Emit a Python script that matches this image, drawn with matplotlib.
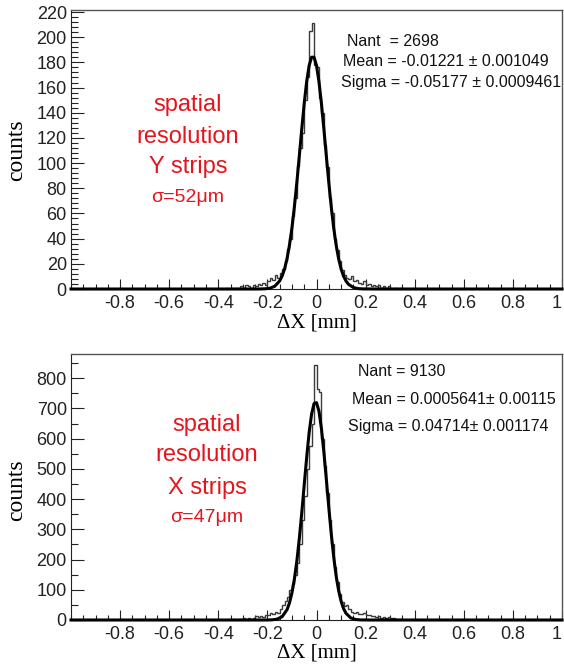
import numpy as np
import matplotlib
matplotlib.use("Agg")
import matplotlib.pyplot as plt
from matplotlib.ticker import MultipleLocator, FuncFormatter

SANS = "Liberation Sans"
SERIF = "Liberation Serif"
RED = "#e3151d"

# histogram bins: width 0.01 mm, counts listed from the first left edge
bin_width = 0.01

# Y strips (top panel)
y_first_edge = -0.37
y_counts = [1, 0, 1, 0, 1, 0, 2, 1, 3, 2, 1, 3, 2, 4, 3, 5, 3, 6, 9, 7,
            11, 9, 13, 16, 22, 32, 40, 58, 72, 98, 112, 124, 150, 168, 205, 211, 178, 176, 152, 140,
            114, 97, 72, 60, 40, 31, 22, 15, 11, 9, 8, 10, 6, 7, 5, 4, 6, 3, 4, 2,
            3, 2, 3, 1, 2, 1, 2, 0, 1, 1, 0, 1]
# gaussian fit curve
y_fit_x = [-1.0, -0.25, -0.23, -0.21, -0.19, -0.17, -0.15, -0.14, -0.13, -0.12, -0.11, -0.10,
           -0.09, -0.08, -0.07, -0.06, -0.05, -0.04, -0.03, -0.02, -0.01, 0.00, 0.01, 0.02,
           0.03, 0.04, 0.05, 0.06, 0.07, 0.08, 0.09, 0.10, 0.11, 0.12, 0.13, 0.15, 0.17, 0.19, 0.25, 1.0]
y_fit_y = [0, 0, 0.04, 0.16, 0.64, 2.2, 6.4, 10.3, 16.0, 24.1, 34.9, 48.6,
           65.4, 84.7, 105.7, 127.2, 147.5, 164.8, 177.5, 184.1, 184.1, 177.5, 164.8, 147.5,
           127.2, 105.7, 84.7, 65.4, 48.6, 34.9, 24.1, 16.0, 10.3, 6.4, 3.8, 1.2, 0.3, 0.08, 0, 0]

# X strips (bottom panel)
x_first_edge = -0.34
x_counts = [3, 0, 4, 2, 5, 3, 6, 4, 8, 12, 10, 14, 11, 18, 15, 22, 20, 26, 24, 35,
            48, 62, 75, 98, 120, 150, 190, 250, 330, 410, 500, 575, 650, 843, 765, 755, 600, 510, 420, 330,
            250, 175, 125, 85, 58, 45, 48, 35, 26, 24, 27, 21, 19, 22, 15, 18, 12, 14, 10, 12,
            8, 11, 6, 9, 5, 7, 3, 4, 2, 1]
x_fit_x = [-1.0, -0.22, -0.20, -0.18, -0.16, -0.14, -0.12, -0.11, -0.10, -0.09, -0.08, -0.07,
           -0.06, -0.05, -0.04, -0.03, -0.02, -0.01, 0.00, 0.01, 0.02, 0.03, 0.04, 0.05,
           0.06, 0.07, 0.08, 0.09, 0.10, 0.11, 0.12, 0.14, 0.16, 0.18, 0.22, 1.0]
x_fit_y = [0, 0, 0.12, 0.65, 2.9, 11.0, 34.3, 56.8, 89.7, 135.4, 195.4, 269.4,
           355, 447, 538, 620, 681, 716, 719, 691, 634, 556, 466, 373,
           286, 209, 146, 97.7, 62.4, 38.1, 22.2, 6.6, 1.6, 0.3, 0, 0]

panels = [
    dict(first=y_first_edge, counts=y_counts, fx=y_fit_x, fy=y_fit_y,
         box=(71, 10, 562, 289), ymax=221.6, major=20, minor=4,
         red=["spatial", "resolution", "Y strips"], sig="σ=52μm",
         red_x=188, red_y=[105, 137, 167, 197],
         stats=[("Nant  = 2698", 347, 42),
                ("Mean = -0.01221 ± 0.001049", 343, 62),
                ("Sigma = -0.05177 ± 0.0009461", 341, 82)],
         ylab_y=150, xlab_y=323),
    dict(first=x_first_edge, counts=x_counts, fx=x_fit_x, fy=x_fit_y,
         box=(71, 354, 562, 620), ymax=880, major=100, minor=50,
         red=["spatial", "resolution", "X strips"], sig="σ=47μm",
         red_x=207, red_y=[425, 455, 488, 517],
         stats=[("Nant = 9130", 358, 372),
                ("Mean = 0.0005641± 0.00115", 352, 400),
                ("Sigma = 0.04714± 0.001174", 348, 427)],
         ylab_y=490, xlab_y=653),
]

W, H = 564, 668
fig = plt.figure(figsize=(W / 100, H / 100), dpi=100)


def fx(px):
    return px / W


def fy(py):
    return 1 - py / H


def xfmt(v, pos):
    if abs(v) < 1e-9:
        return "0"
    if abs(v - 1) < 1e-9:
        return "1"
    return "%.1f" % v


for p in panels:
    x0, y0, x1, y1 = p["box"]
    ax = fig.add_axes([fx(x0), fy(y1), (x1 - x0) / W, (y1 - y0) / H])

    edges = p["first"] + bin_width * np.arange(len(p["counts"]) + 1)
    ax.stairs(p["counts"], edges, color="#3a3a3a", lw=1.0, zorder=2)
    ax.plot(p["fx"], p["fy"], color="k", lw=2.2, zorder=3, clip_on=False)

    ax.set_xlim(-1, 1)
    ax.set_ylim(0, p["ymax"])

    ax.xaxis.set_major_locator(MultipleLocator(0.2))
    ax.xaxis.set_minor_locator(MultipleLocator(0.05))
    ax.xaxis.set_major_formatter(FuncFormatter(xfmt))
    ax.yaxis.set_major_locator(MultipleLocator(p["major"]))
    ax.yaxis.set_minor_locator(MultipleLocator(p["minor"]))

    ax.tick_params(axis="y", which="major", direction="in", length=9, width=0.8,
                   labelsize=13, pad=3, colors="#222")
    ax.tick_params(axis="y", which="minor", direction="in", length=5, width=0.8, colors="#222")
    ax.tick_params(axis="x", which="major", direction="in", length=7, width=0.8,
                   labelsize=13, pad=4, colors="#222")
    ax.tick_params(axis="x", which="minor", direction="in", length=3.5, width=0.8, colors="#222")
    # ROOT style: no label at the left edge
    ax.set_xticks([t for t in ax.get_xticks() if t > -0.95 and t <= 1.0001])
    for lab in ax.get_xticklabels() + ax.get_yticklabels():
        lab.set_fontfamily(SANS)
    # keep the "1" at the right edge inside the figure
    ax.get_xticklabels()[-1].set_horizontalalignment("right")

    for side in ["top", "right"]:
        ax.spines[side].set_color("#555")
        ax.spines[side].set_linewidth(1.0)
    ax.spines["left"].set_color("#222")
    ax.spines["bottom"].set_color("#222")

    for txt, yy in zip(p["red"], p["red_y"][:3]):
        fig.text(fx(p["red_x"]), fy(yy), txt, color=RED, fontsize=17,
                 family=SANS, ha="center", va="center")
    fig.text(fx(p["red_x"]), fy(p["red_y"][3]), p["sig"], color=RED, fontsize=14,
             family=SANS, ha="center", va="center")

    for txt, xx, yy in p["stats"]:
        fig.text(fx(xx), fy(yy), txt, fontsize=11.5, family=SANS, ha="left",
                 va="center", color="#111")

    fig.text(fx(17), fy(p["ylab_y"]), "counts", rotation=90, fontsize=17,
             family=SERIF, ha="center", va="center")
    fig.text(fx(317), fy(p["xlab_y"]), "ΔX [mm]", fontsize=15,
             family=SERIF, ha="center", va="center")

fig.savefig("out.png", dpi=100)
plt.close(fig)
